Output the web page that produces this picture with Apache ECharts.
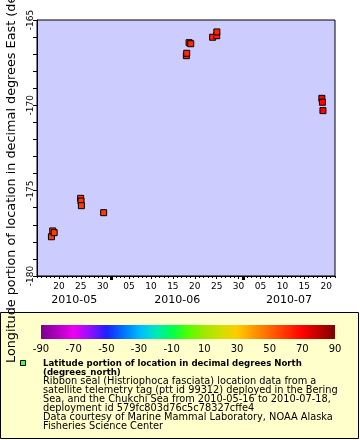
<!DOCTYPE html>
<html><head><meta charset="utf-8">
<script src="https://cdn.jsdelivr.net/npm/echarts@6/dist/echarts.min.js"></script>
<style>html,body{margin:0;padding:0;background:#fff}#c{width:360px;height:440px}</style>
</head><body><div id="c"></div>
<script>
// ---- data ----
const times = ['2010-05-18T07:00Z','2010-05-18T14:00Z','2010-05-18T22:00Z',
  '2010-05-24T23:00Z','2010-05-25T01:00Z','2010-05-25T03:00Z','2010-05-30T05:00Z',
  '2010-06-18T02:00Z','2010-06-18T04:00Z','2010-06-18T17:00Z','2010-06-19T02:00Z',
  '2010-06-24T02:00Z','2010-06-25T00:00Z','2010-06-25T01:00Z',
  '2010-07-19T00:00Z','2010-07-19T03:00Z','2010-07-19T06:00Z'];
const longitudes = [-177.70,-177.36,-177.46,
  -175.45,-175.61,-175.88,-176.29,
  -167.09,-166.95,-166.33,-166.39,
  -166.01,-165.92,-165.70,
  -169.59,-169.82,-170.31];
const latitudes = [58.0,58.1,58.1,
  58.6,58.6,58.7,59.0,
  62.5,62.6,62.8,62.8,
  63.2,63.3,63.3,
  69.5,69.5,69.6];
const yTickLabels = [-180,-175,-170,-165];
const colorbarTicks = [-90,-70,-50,-30,-10,10,30,50,70,90];
const paletteColors = ['#7a0090','#b000c0','#f000f0','#9010ff','#2020ff','#0070ff','#00b8ff','#00e8c0','#00ff50','#50ff00','#a0e800','#d0e000','#ffcc00','#ff9900','#ff6600','#ff3300','#ff0000','#c00000','#800000'];
const yAxisTitle = 'Longitude portion of location in decimal degrees East (degrees_east)';
const legendTitle = 'Latitude portion of location in decimal degrees North\n(degrees_north)';
const legendBody = 'Ribbon seal (Histriophoca fasciata) location data from a\nsatellite telemetry tag (ptt id 99312) deployed in the Bering\nSea, and the Chukchi Sea from 2010-05-16 to 2010-07-18,\ndeployment id 579fc803d76c5c78327cffe4\nData courtesy of Marine Mammal Laboratory, NOAA Alaska\nFisheries Science Center';

// ---- setup ----
const DAY = 86400000;
const xMin = Date.UTC(2010,4,15), xMax = Date.UTC(2010,6,22);
const pts = times.map((t,i)=>[Date.parse(t), longitudes[i], latitudes[i]]);
const fiveDay = [], monthStarts = [Date.UTC(2010,5,1), Date.UTC(2010,6,1)];
for (let t = xMin + DAY; t < xMax; t += DAY) { const d = new Date(t).getUTCDate(); if (d % 5 === 0) fiveDay.push(t); }
const monthCenters = [(xMin+monthStarts[0])/2, (monthStarts[0]+monthStarts[1])/2, (monthStarts[1]+xMax)/2];
const pad = n => (n<10?'0':'')+n;
const FONT = 'DejaVu Sans';
const cb = {x:41, y:325, w:294, h:14};

const chart = echarts.init(document.getElementById('c'), null, {renderer:'canvas'});
chart.setOption({
  animation:false,
  backgroundColor:'#ffffff',
  textStyle:{fontFamily:FONT},
  grid:[
    {left:37, top:20, width:298, height:256, show:true, backgroundColor:'#ccccff', borderColor:'#000', borderWidth:1},
    {left:cb.x, top:cb.y, width:cb.w, height:cb.h, show:false}
  ],
  xAxis:[
    {type:'value', gridIndex:0, min:xMin, max:xMax, interval:DAY, position:'bottom',
      axisLine:{lineStyle:{color:'#000', width:1}}, splitLine:{show:false},
      axisTick:{length:2, lineStyle:{color:'#000'}},
      axisLabel:{customValues:fiveDay, margin:6, fontSize:9, color:'#000', fontFamily:FONT,
        formatter:v=>pad(new Date(v).getUTCDate())}},
    {type:'value', gridIndex:0, min:xMin, max:xMax, position:'bottom',
      axisLine:{show:false}, splitLine:{show:false},
      axisTick:{show:true, customValues:fiveDay, length:3, lineStyle:{color:'#000'}},
      axisLabel:{show:false}},
    {type:'value', gridIndex:0, min:xMin, max:xMax, position:'bottom',
      axisLine:{show:false}, splitLine:{show:false},
      axisTick:{show:true, customValues:monthStarts, length:4, lineStyle:{color:'#000', width:3}},
      axisLabel:{customValues:monthCenters, margin:19, fontSize:11, color:'#000', fontFamily:FONT,
        formatter:v=>{const d=new Date(v); return d.getUTCFullYear()+'-'+pad(d.getUTCMonth()+1);}}},
    {type:'value', gridIndex:1, min:0, max:180, interval:20, position:'bottom', z:20,
      axisLine:{show:false}, splitLine:{show:false}, axisTick:{show:false},
      axisLabel:{customValues:colorbarTicks.map(v=>v+90), margin:5, fontSize:10, color:'#000', fontFamily:FONT,
        formatter:v=>String(v-90)}}
  ],
  yAxis:[
    {type:'value', gridIndex:0, min:-180, max:-165, interval:1,
      axisLine:{show:true, lineStyle:{color:'#000'}}, splitLine:{show:false},
      axisTick:{show:true, length:4, lineStyle:{color:'#000'}},
      axisLabel:{customValues:yTickLabels, rotate:90, margin:2, fontSize:9, color:'#000', fontFamily:FONT}},
    {type:'value', gridIndex:1, show:false}
  ],
  visualMap:{type:'continuous', show:false, dimension:2, min:-90, max:90, seriesIndex:0,
    inRange:{color:paletteColors}},
  series:[{
    type:'scatter', xAxisIndex:0, yAxisIndex:0, data:pts, symbol:'rect', symbolSize:6,
    itemStyle:{borderColor:'#000', borderWidth:1, opacity:1}
  }],
  graphic:[
    {type:'rect', z:1, shape:{x:0.5, y:312.5, width:358, height:126}, style:{fill:'#ffffcc', stroke:'#000', lineWidth:1}},
    {type:'rect', z:2, shape:{x:cb.x, y:cb.y, width:cb.w, height:cb.h},
      style:{fill:new echarts.graphic.LinearGradient(0,0,1,0, paletteColors.map((c,i)=>({offset:i/(paletteColors.length-1), color:c})))}},
    {type:'rect', z:2, shape:{x:20.5, y:360.5, width:5, height:5}, style:{fill:'#44ff44', stroke:'#000', lineWidth:1}},
    {type:'text', z:3, x:43, y:359, style:{text:legendTitle, font:'bold 8.6px "DejaVu Sans"', fill:'#000', lineHeight:9}},
    {type:'text', z:3, x:43, y:377, style:{text:legendBody, font:'9.8px "DejaVu Sans"', fill:'#000', lineHeight:9}},
    {type:'text', z:3, x:12, y:363, rotation:Math.PI/2, style:{text:yAxisTitle, font:'12.8px "DejaVu Sans"', fill:'#000', textAlign:'left', textVerticalAlign:'middle'}}
  ]
});
</script></body></html>
